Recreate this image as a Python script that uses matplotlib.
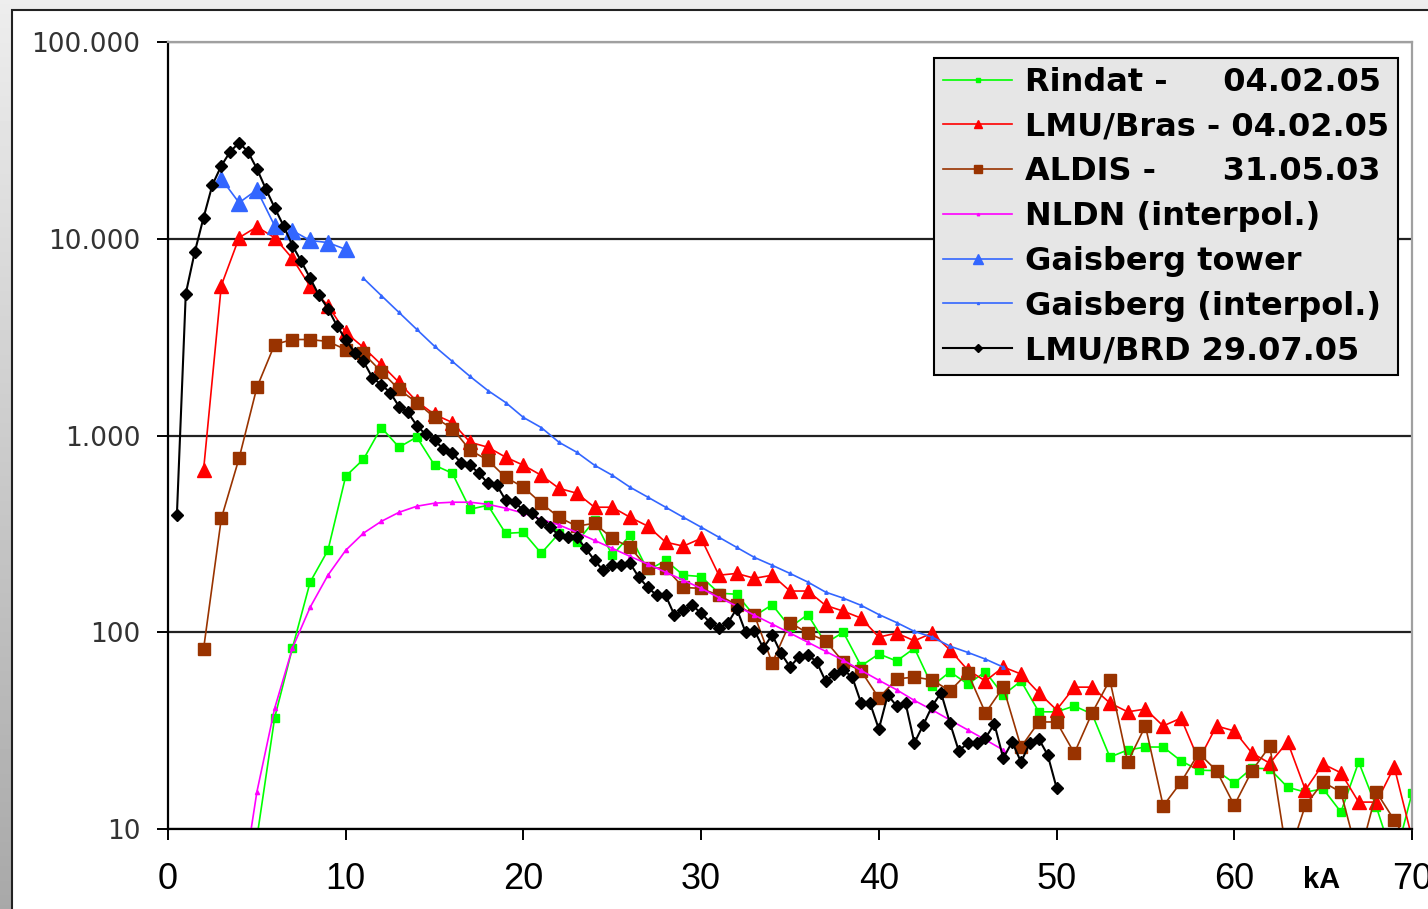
import numpy as np
import matplotlib
matplotlib.use("Agg")
from matplotlib import pyplot as plt
from matplotlib.patches import Rectangle
from matplotlib.ticker import FixedLocator, FixedFormatter

# --- data (kA vs. count) ---
x_brd = np.arange(0.5, 50.01, 0.5)
lmu_brd = [394, 5260, 8520, 12800, 18800, 23500, 27700, 30800, 27700, 22700,
           17960, 14380, 11640, 9240, 7670, 6290, 5150, 4420, 3620, 3075,
           2640, 2380, 1970, 1815, 1654, 1404, 1309, 1124, 1012, 946,
           852, 813, 724, 706, 643, 572, 559, 469, 458, 417,
           403, 362, 342, 311, 304, 304, 267, 232, 206, 219,
           219, 224, 190, 169, 154, 154, 122, 129, 137, 125,
           112, 105, 111, 132, 100, 102, 83, 97, 78, 66.6,
           75, 77, 70.6, 56.5, 61.3, 64.3, 59.2, 43.7, 43.7, 32.2,
           48, 42.2, 43.7, 27.4, 33.8, 42.2, 49.2, 34.6, 24.9, 27.4,
           27.4, 29.0, 34.2, 22.9, 27.7, 21.9, 27.4, 28.7, 23.8, 16.2]

x_bras = np.arange(2, 71)
lmu_bras = [666, 5786, 10120, 11500, 10120, 7940, 5720, 4578, 3340, 2800,
            2295, 1860, 1489, 1279, 1164, 924, 872, 776, 706, 628,
            539, 509, 432, 432, 384, 346, 287, 274, 300, 195,
            199, 188, 195, 162, 162, 137, 128, 118, 94.5, 99,
            90.5, 99, 81.3, 64.3, 56.5, 66.6, 61.3, 49.2, 40.3, 52.6,
            52.6, 43.7, 39.4, 40.7, 33.4, 36.6, 22.4, 33.4, 31.5, 24.3,
            21.6, 27.7, 15.8, 21.4, 19.3, 13.7, 13.7, 20.7, 9]

x_aldis = np.arange(2, 71)
aldis = [82, 379, 766, 1754, 2900, 3075, 3075, 3004, 2735, 2612,
         2114, 1714, 1471, 1235, 1085, 842, 749, 613, 546, 453,
         384, 346, 358, 300, 270, 212, 212, 169, 167, 154,
         138, 122, 69.8, 112, 99, 90.5, 70.6, 63.6, 46.3, 57.9,
         59.2, 57.2, 50.3, 62.2, 38.9, 52.6, 26.1, 35.0, 35.0, 24.3,
         38.9, 57.2, 21.9, 33.4, 13.1, 17.3, 24.3, 19.8, 13.2, 19.8,
         26.4, 7, 13.2, 17.3, 15.4, 7, 15.4, 11.1, 8]

x_rindat = np.arange(5, 71)
rindat = [9, 36.7, 83, 180, 261, 621, 757, 1098, 872, 982,
          706, 643, 422, 442, 318, 322, 252, 318, 287, 370,
          246, 311, 206, 232, 195, 192, 158, 156, 121, 138,
          106, 123, 88, 100, 67.4, 77.6, 71.4, 83, 53.3, 62.9,
          54.6, 62.9, 48, 56.5, 39.4, 39.4, 42.2, 38.4, 23.2, 25.2,
          26.1, 26.1, 22.2, 19.9, 19.8, 17.1, 20.4, 20.2, 16.3, 15.4,
          16.0, 12.2, 21.9, 12.9, 6.8, 15.2]

x_nldn = np.arange(4, 48)
nldn = [4, 15.4, 41, 83, 134, 195, 261, 319, 366, 407, 437,
        453, 458, 458, 447, 427, 403, 375, 351, 322, 293,
        267, 243, 222, 202, 184, 167, 150, 136, 122, 110,
        99, 89, 80, 72, 64, 57, 51, 45, 40.3, 35.8,
        31.9, 28.4, 25.2]

x_tower = np.arange(3, 11)
tower = [20180, 15240, 17730, 11640, 11000, 9800, 9560, 8830]

x_gais = np.arange(11, 48)
gais = [6290, 5147, 4220, 3460, 2840, 2380, 1995, 1693, 1471, 1235,
        1098, 924, 822, 706, 628, 546, 486, 432, 384, 342,
        304, 270, 240, 219, 199, 180, 160, 149, 137, 123,
        112, 101, 94.5, 85, 79, 73, 66.5]

W, H = 1428, 909
fig = plt.figure(figsize=(W / 100, H / 100), dpi=100)

# grey frame around the white panel
bg = fig.add_axes([0, 0, 1, 1], zorder=-10)
grad = np.linspace(0.93, 0.66, 256)[:, None] * np.ones((256, 2))
bg.imshow(grad, cmap='gray', vmin=0, vmax=1, aspect='auto',
          extent=[0, 1, 0, 1])
bg.set_axis_off()
fig.patches.append(Rectangle((12 / W, -0.01), 1, 1 - 10 / H + 0.01,
                             transform=fig.transFigure, facecolor='white',
                             edgecolor='#222222', lw=1.5, zorder=-5))

ax = fig.add_axes([168 / W, 80 / H, 1244 / W, 787 / H])
ax.set_facecolor('none')
ax.set_yscale('log')
ax.set_xlim(0, 70)
ax.set_ylim(10, 100000)

ax.plot(x_rindat, rindat, color='#00ff00', lw=1.2, marker='s', ms=5.5,
        label='Rindat -     04.02.05')
ax.plot(x_bras, lmu_bras, color='#ff0000', lw=1.2, marker='^', ms=10,
        label='LMU/Bras - 04.02.05')
ax.plot(x_aldis, aldis, color='#993300', lw=1.2, marker='s', ms=9,
        label='ALDIS -      31.05.03')
ax.plot(x_nldn, nldn, color='#ff00ff', lw=1.2, marker='^', ms=3,
        label='NLDN (interpol.)')
ax.plot(x_tower, tower, color='#3366ff', lw=1.2, marker='^', ms=11,
        label='Gaisberg tower')
ax.plot(x_gais, gais, color='#3366ff', lw=1.2, marker='^', ms=2.5,
        label='Gaisberg (interpol.)')
ax.plot(x_brd, lmu_brd, color='black', lw=1.5, marker='D', ms=6.5,
        label='LMU/BRD 29.07.05')

ax.yaxis.set_major_locator(FixedLocator([10, 100, 1000, 10000, 100000]))
ax.yaxis.set_major_formatter(FixedFormatter(
    ['10', '100', '1.000', '10.000', '100.000']))
ax.yaxis.set_minor_locator(FixedLocator([]))
ax.set_xticks(range(0, 71, 10))
ax.grid(axis='y', color='#222222', lw=1.6)
ax.set_axisbelow(True)

for s in ['left', 'bottom']:
    ax.spines[s].set_color('black')
    ax.spines[s].set_linewidth(1.6)
for s in ['top', 'right']:
    ax.spines[s].set_color('#a0a0a0')
    ax.spines[s].set_linewidth(1.6)

ax.tick_params(axis='y', direction='out', length=8, width=1.4, pad=12,
               labelsize=19, labelcolor='#333333')
ax.tick_params(axis='x', direction='out', length=8, width=1.4, pad=16,
               labelsize=26)
for t in ax.get_yticklabels():
    t.set_family('DejaVu Sans')
for t in ax.get_xticklabels():
    t.set_family('Liberation Sans')

ax.text(64.9, -0.047, 'kA', transform=ax.get_xaxis_transform(),
        ha='center', va='top', fontsize=21, fontweight='bold',
        family='Liberation Sans')

leg = ax.legend(loc='upper right', bbox_to_anchor=(0.9887, 0.9797),
                borderaxespad=0, fancybox=False, framealpha=1,
                facecolor='#e6e6e6', edgecolor='black', handlelength=2.15,
                handletextpad=0.4, labelspacing=0.43, borderpad=0.28,
                prop={'family': 'DejaVu Sans', 'weight': 'bold', 'size': 23},
                markerscale=0.6)
leg.get_frame().set_linewidth(1.5)

fig.savefig('out.png', dpi=100)
